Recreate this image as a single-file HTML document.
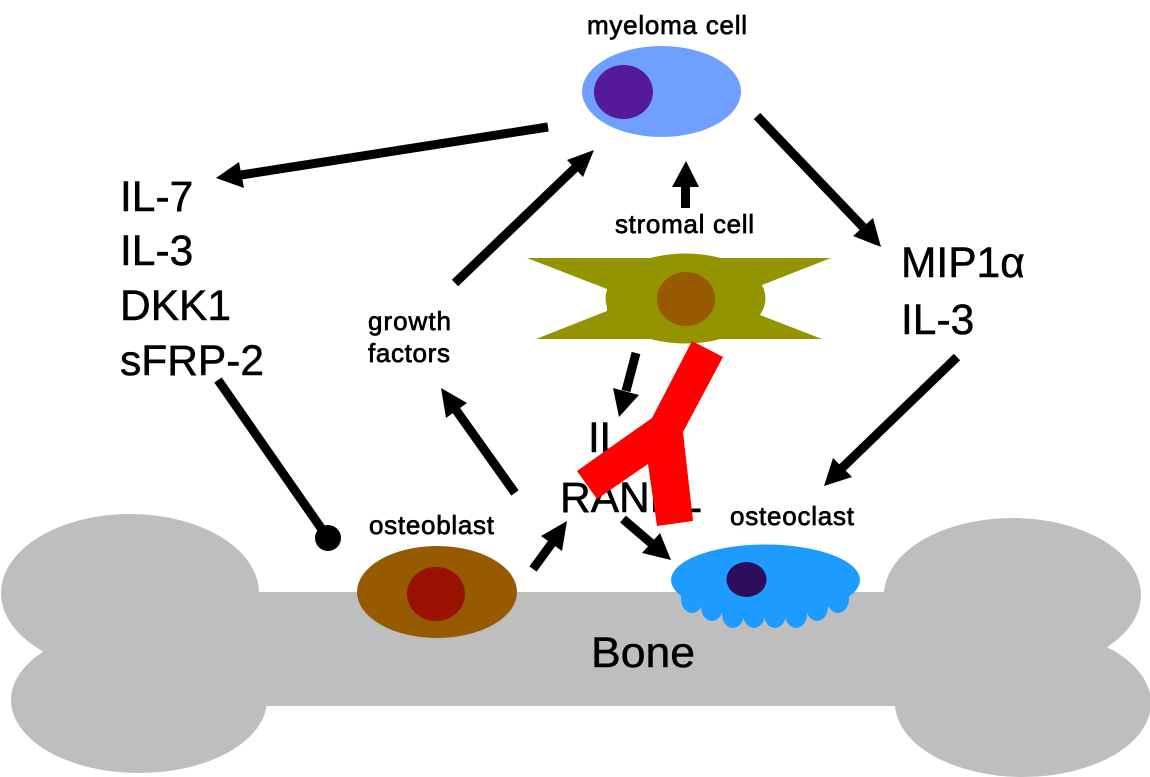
<!DOCTYPE html>
<html><head><meta charset="utf-8"><style>
html,body{margin:0;padding:0;background:#fff}
svg{display:block}
text{font-family:"Liberation Sans",sans-serif;fill:#000}
.b{font-size:42.5px;stroke:#000;stroke-width:.5px}
.s{font-size:26px;stroke:#000;stroke-width:.7px}
.l{fill:none;stroke:#000;stroke-width:9}
</style></head><body>
<svg width="1150" height="777" viewBox="0 0 1150 777" xmlns="http://www.w3.org/2000/svg">
<g fill="#bebebe">
<ellipse cx="130" cy="593" rx="129" ry="79"/><ellipse cx="139" cy="700" rx="128" ry="73"/>
<ellipse cx="1012.5" cy="595" rx="128.5" ry="77"/><ellipse cx="1023" cy="703" rx="128" ry="74"/>
<rect x="200" y="592" width="750" height="114"/>
</g>
<ellipse cx="661.5" cy="91.5" rx="79.5" ry="45.5" fill="#70a0ff"/>
<ellipse cx="623.5" cy="92" rx="29.5" ry="27" fill="#551a99"/>
<path d="M527 258H831L762 285L760 315L822 339H536L607 311V289Z" fill="#949400"/>
<ellipse cx="685.5" cy="298.5" rx="80" ry="45" fill="#949400"/>
<ellipse cx="686" cy="299" rx="29" ry="27" fill="#965a00"/>
<ellipse cx="437" cy="592" rx="80" ry="46" fill="#965a00"/>
<ellipse cx="436" cy="594" rx="29" ry="27" fill="#991100"/>
<g fill="#1e9bff">
<ellipse cx="765.5" cy="580" rx="94.5" ry="35.5"/>
<ellipse cx="692" cy="599" rx="11" ry="14"/><ellipse cx="712" cy="607" rx="11" ry="14"/><ellipse cx="733" cy="614" rx="11" ry="14"/><ellipse cx="754" cy="614" rx="11" ry="14"/><ellipse cx="775" cy="614" rx="11" ry="14"/><ellipse cx="796" cy="614" rx="11" ry="14"/><ellipse cx="817" cy="607" rx="11" ry="14"/><ellipse cx="838" cy="599" rx="11" ry="14"/>
</g>
<ellipse cx="746.5" cy="579.5" rx="20" ry="17.5" fill="#2d0e5c"/>
<g class="a">
<line class="l" x1="548" y1="127" x2="241" y2="175"/><polygon points="216,178 239,162 244,188"/>
<line class="l" x1="455" y1="283" x2="575" y2="168"/><polygon points="594,150 567,160 583,177"/>
<line class="l" x1="685.5" y1="208" x2="685.5" y2="187"/><polygon points="686,161 672,187 699,187"/>
<line class="l" x1="757" y1="116" x2="863" y2="227"/><polygon points="881,247 853,236 873,218"/>
<line class="l" x1="957" y1="357" x2="842" y2="468"/><polygon points="824,486 833,458 852,477"/>
<line class="l" x1="636" y1="353" x2="626" y2="391"/><polygon points="619,417 613,388 639,395"/>
<line class="l" x1="515" y1="493" x2="456" y2="410"/><polygon points="441,388 446,418 467,403"/>
<line class="l" x1="533" y1="569" x2="552" y2="543"/><polygon points="567,521 541,536 562,551"/>
<line class="l" x1="623" y1="519" x2="651" y2="543"/><polygon points="671,560 660,533 642,553"/>
<line class="l" x1="218" y1="380" x2="328" y2="538"/>
<circle cx="328" cy="538" r="13"/>
</g>
<text class="b" x="120" y="211">IL-7</text>
<text class="b" x="120" y="265">IL-3</text>
<text class="b" x="120" y="320">DKK1</text>
<text class="b" x="120" y="375">sFRP-2</text>
<text class="b" x="901" y="277">MIP1α</text>
<text class="b" x="901" y="334">IL-3</text>
<text class="b" x="588" y="452">IL</text>
<text class="b" x="560" y="512">RANKL</text>
<text class="b" x="591" y="667" textLength="104" lengthAdjust="spacingAndGlyphs">Bone</text>
<text class="s" x="587" y="34" textLength="160">myeloma cell</text>
<text class="s" x="615" y="233" textLength="139">stromal cell</text>
<text class="s" x="368" y="330" textLength="83">growth</text>
<text class="s" x="368" y="362" textLength="82">factors</text>
<text class="s" x="369" y="534" textLength="125">osteoblast</text>
<text class="s" x="730" y="525" textLength="124">osteoclast</text>
<path d="M692 341L723 357L683 432L693 521L657 526L648 464L597 499L577 471L652 418Z" fill="#f00"/>
</svg>
</body></html>
